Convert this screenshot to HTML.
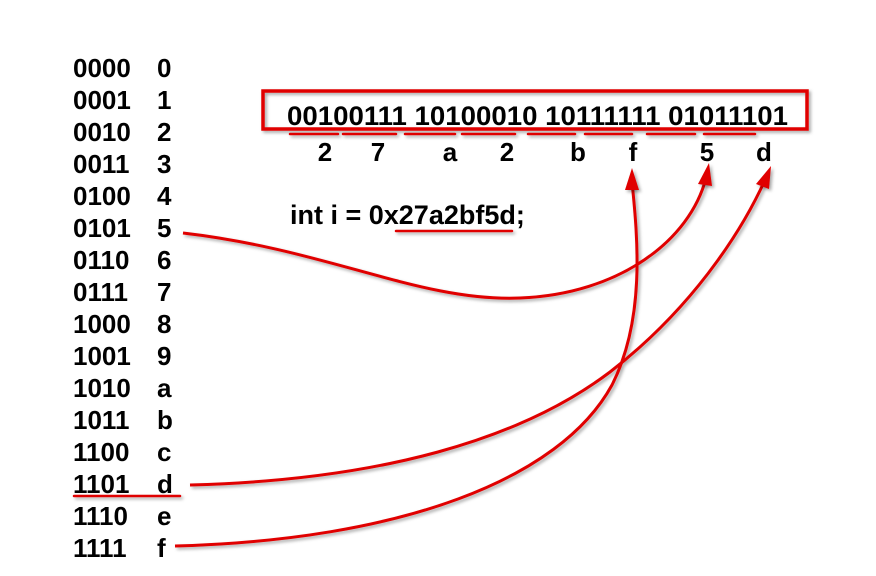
<!DOCTYPE html>
<html><head><meta charset="utf-8"><style>
html,body{margin:0;padding:0;background:#fff}
svg{display:block}
text{font-family:"Liberation Sans",Arial,sans-serif;font-weight:bold;fill:#000}
</style></head><body>
<svg width="876" height="576" viewBox="0 0 876 576">
<defs>
<filter id="sh" filterUnits="userSpaceOnUse" x="0" y="0" width="876" height="576"><feDropShadow dx="2" dy="2" stdDeviation="1.5" flood-color="#000" flood-opacity="0.35"/></filter>
</defs>
<g id="table"></g>
<rect x="263" y="91" width="544" height="38" fill="none" stroke="#e00000" stroke-width="3.5" filter="url(#sh)"/>
<text x="287" y="125" font-size="27" textLength="501" lengthAdjust="spacingAndGlyphs">00100111 10100010 10111111 01011101</text>
<g id="hex"></g>
<g id="ul"></g>
<text x="290" y="224" font-size="27">int i = 0x27a2bf5d;</text>
<line x1="396" y1="231" x2="512" y2="231" stroke="#e00000" stroke-width="2.5" stroke-linecap="round" filter="url(#sh)"/>
<line x1="74" y1="496" x2="180" y2="496" stroke="#e00000" stroke-width="2.5" stroke-linecap="round" filter="url(#sh)"/>
<g fill="none" stroke="#e00000" stroke-width="3" filter="url(#sh)">
<path d="M183,233 C330,250 420,302 520,298 C620,294 690,240 706,178"/>
<path d="M175,546 C400,540 560,480 612,385 C645,320 638,240 632,182"/>
<path d="M190,485 C380,480 520,440 610,372 C690,310 740,235 765,180"/>
</g>
<g fill="#e00000" filter="url(#sh)">
<polygon points="632,168 625,190 639,190"/>
<polygon points="709,163 698,184 712,186"/>
<polygon points="771,166 756,184 769,189"/>
</g>
</svg>
<script>
const ns="http://www.w3.org/2000/svg";
const bins=["0000","0001","0010","0011","0100","0101","0110","0111","1000","1001","1010","1011","1100","1101","1110","1111"];
const hexs=["0","1","2","3","4","5","6","7","8","9","a","b","c","d","e","f"];
const labels=["2","7","a","2","b","f","5","d"];
const labelX=[325,378,450,507,578,633,707,764];
const ulStart=[290,343,405,462,528,585,647,704];
const ulEnd=[338,396,455,515,575,632,695,755];
const tg=document.getElementById('table');
bins.forEach((b,i)=>{
  const y=77+i*32;
  const t=document.createElementNS(ns,'text');t.setAttribute('x',73);t.setAttribute('y',y);t.setAttribute('font-size','26');t.textContent=b;
  
  
  tg.appendChild(t);
  const h=document.createElementNS(ns,'text');h.setAttribute('x',157);h.setAttribute('y',y);h.setAttribute('font-size','26');h.textContent=hexs[i];
  
  
  tg.appendChild(h);
});
const hg=document.getElementById('hex');
labels.forEach((l,i)=>{
  const t=document.createElementNS(ns,'text');t.setAttribute('x',labelX[i]);t.setAttribute('y',161);t.setAttribute('font-size','26');t.setAttribute('text-anchor','middle');t.textContent=l;
  
  
  hg.appendChild(t);
});
const ug=document.getElementById('ul');
ulStart.forEach((s,i)=>{
  const l=document.createElementNS(ns,'line');l.setAttribute('x1',s);l.setAttribute('x2',ulEnd[i]);l.setAttribute('y1',134);l.setAttribute('y2',134);
  l.setAttribute('stroke','#e00000');l.setAttribute('stroke-width','2.5');l.setAttribute('stroke-linecap','round');l.setAttribute('filter','url(#sh)');
  
  
  ug.appendChild(l);
});
</script>
</body></html>
